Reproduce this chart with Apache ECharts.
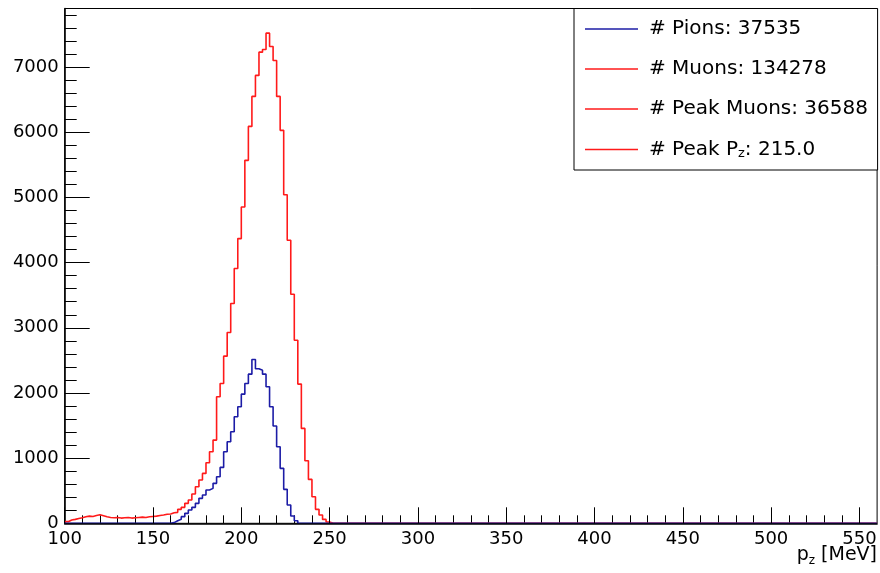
<!DOCTYPE html>
<html><head><meta charset="utf-8">
<script src="https://cdn.jsdelivr.net/npm/echarts@6/dist/echarts.min.js"></script>
<style>html,body{margin:0;padding:0;background:#fff}#chart{width:880px;height:573px}</style>
</head><body><div id="chart"></div>
<script>
// ---- data ----
const xMin = 100, xMax = 560, binWidth = 2, yMax = 7900;
const xTickLabels = [100, 150, 200, 250, 300, 350, 400, 450, 500, 550];
const yTickLabels = [0, 1000, 2000, 3000, 4000, 5000, 6000, 7000];
// muon histogram, bins of 2 MeV starting at 100 MeV
const muonStart = 100;
const muonCounts = [25, 50, 60, 75, 85, 100, 110, 105, 120, 130,
  115, 100, 90, 85, 90, 80, 85, 90, 80, 85,
  90, 95, 90, 100, 105, 110, 120, 127, 138, 143,
  163, 168, 214, 245, 306, 357, 449, 561, 664, 766,
  929, 1098, 1277, 1941, 2146, 2565, 2928, 3373, 3909, 4369,
  4854, 5570, 6091, 6551, 6873, 7230, 7271, 7522, 7317, 7103,
  6551, 6030, 5043, 4343, 3515, 2810, 2136, 1456, 960, 674,
  408, 214, 127, 60, 20];
// pion histogram, bins of 2 MeV starting at 160 MeV
const pionStart = 160;
const pionCounts = [10, 40, 61, 102, 153, 204, 245, 306, 383, 434,
  511, 536, 613, 715, 858, 1098, 1251, 1405, 1635, 1788,
  1982, 2146, 2289, 2514, 2371, 2350, 2289, 2095, 1788, 1492,
  1175, 843, 521, 281, 112, 40];
const legendNames = ['# Pions: 37535', '# Muons: 134278', '# Peak Muons: 36588', '# Peak Pz: 215.0'];
const xTitle = 'p{sub|z} [MeV]';

// ---- build ----
function histData(start, counts) {
  const n = Math.round((xMax - xMin) / binWidth);
  const pts = [];
  for (let i = 0; i < n; i++) {
    const lo = xMin + i * binWidth;
    const k = Math.round((lo - start) / binWidth);
    pts.push([lo, (k >= 0 && k < counts.length) ? counts[k] : 0]);
  }
  pts.push([xMax, pts[pts.length - 1][1]]);
  return pts;
}
const xMinor = [], yMinor = [];
for (let v = xMin + 10; v < xMax; v += 10) if (v % 50 !== 0) xMinor.push(v);
for (let v = 200; v < yMax; v += 200) if (v % 1000 !== 0) yMinor.push(v);

const FONT = 'DejaVu Sans';
const RED = '#ff1a1a', BLUE = '#1c1ca6';
const chart = echarts.init(document.getElementById('chart'), null, {renderer: 'canvas'});
const axisCommon = {type: 'value', min: xMin, max: xMax, splitLine: {show: false}};
chart.setOption({
  animation: false,
  backgroundColor: '#fff',
  grid: {left: 64.7, right: 2.9, top: 8.5, bottom: 49.7, show: true, borderColor: '#000', borderWidth: 1, backgroundColor: '#fff'},
  xAxis: [
    Object.assign({}, axisCommon, {
      position: 'bottom', z: 3,
      axisLine: {lineStyle: {color: '#000', width: 1.5}},
      axisTick: {inside: true, length: 16, customValues: xTickLabels, lineStyle: {color: '#000', width: 1}},
      axisLabel: {customValues: xTickLabels, formatter: v => String(v), fontFamily: FONT, fontSize: 18, color: '#000', margin: 7}
    }),
    Object.assign({}, axisCommon, {
      position: 'bottom', offset: 0,
      axisLine: {show: false},
      axisTick: {inside: true, length: 8, customValues: xMinor, lineStyle: {color: '#000', width: 1}},
      axisLabel: {show: false}
    })
  ],
  yAxis: [
    {type: 'value', min: 0, max: yMax, position: 'left', splitLine: {show: false},
      axisLine: {show: true, lineStyle: {color: '#000', width: 1.5}},
      axisTick: {show: true, inside: true, length: 25, customValues: yTickLabels, lineStyle: {color: '#000', width: 1}},
      axisLabel: {customValues: yTickLabels, formatter: v => String(v), fontFamily: FONT, fontSize: 18, color: '#000', margin: 6}},
    {type: 'value', min: 0, max: yMax, position: 'left', offset: 0, splitLine: {show: false},
      axisLine: {show: false},
      axisTick: {show: true, inside: true, length: 12, customValues: yMinor, lineStyle: {color: '#000', width: 1}},
      axisLabel: {show: false}}
  ],
  legend: {
    orient: 'vertical', left: 585, top: 19, padding: 0, icon: 'rect', itemWidth: 53, itemHeight: 1.6, itemGap: 20,
    selectedMode: false, z: 10, data: legendNames,
    formatter: n => n === legendNames[3] ? '# Peak P{sub|z}: 215.0' : n,
    textStyle: {fontFamily: FONT, fontSize: 20, color: '#000', lineHeight: 20, padding: [0, 0, 0, 6],
      rich: {sub: {fontFamily: FONT, fontSize: 13, color: '#000', lineHeight: 20, padding: [8, 0, 0, 0]}}}
  },
  graphic: [
    {type: 'rect', z: 5, shape: {x: 574, y: 8.5, width: 303.6, height: 161.5}, style: {fill: '#fff', stroke: '#000', lineWidth: 1}},
    {type: 'text', right: 3, top: 546, z: 5, style: {text: xTitle, fill: '#000', font: '19px "DejaVu Sans"',
      rich: {sub: {fontFamily: FONT, fontSize: 12, fill: '#000', padding: [10, 0, 0, 0]}}}}
  ],
  series: [
    {name: legendNames[1], type: 'line', step: 'end', symbol: 'none', data: histData(muonStart, muonCounts),
      lineStyle: {color: RED, width: 1.6}, itemStyle: {color: RED}, z: 2},
    {name: legendNames[0], type: 'line', step: 'end', symbol: 'none', data: histData(pionStart, pionCounts),
      lineStyle: {color: BLUE, width: 1.6}, itemStyle: {color: BLUE}, z: 2},
    {name: legendNames[2], type: 'line', symbol: 'none', data: [], lineStyle: {color: RED, width: 1.6}, itemStyle: {color: RED}},
    {name: legendNames[3], type: 'line', symbol: 'none', data: [], lineStyle: {color: RED, width: 1.6}, itemStyle: {color: RED}}
  ]
});
</script></body></html>
